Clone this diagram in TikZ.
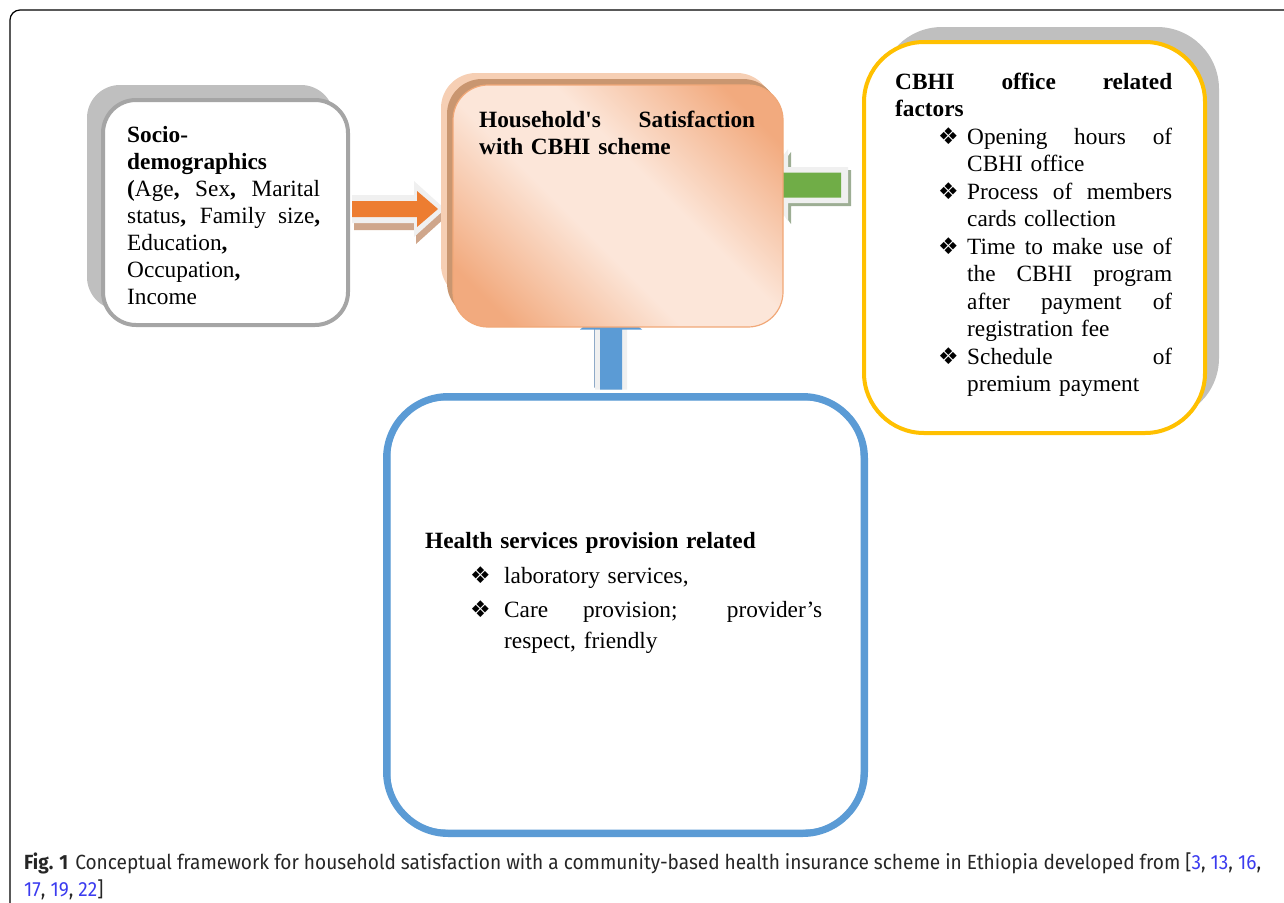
\documentclass[tikz,border=0pt]{standalone}
\usepackage{fontspec}
\setmainfont{Liberation Serif}[Ligatures=TeXOff]
\newfontfamily\dejavu{DejaVu Sans}
\newfontfamily\capfont[FakeStretch=0.93]{Fira Sans}
\usetikzlibrary{calc}

\definecolor{socioshade}{HTML}{BFBFBF}
\definecolor{socioline}{HTML}{A5A5A5}
\definecolor{peachback}{HTML}{F6CFB4}
\definecolor{peachedge}{HTML}{C99670}
\definecolor{peachdark}{HTML}{F2AA7E}
\definecolor{peachlight}{HTML}{FCE6D9}
\definecolor{peachline}{HTML}{F1A878}
\definecolor{arrorange}{HTML}{ED7D31}
\definecolor{arrtan}{HTML}{CFA68B}
\definecolor{arrlight}{HTML}{F0F0F0}
\definecolor{arrgreen}{HTML}{70AD47}
\definecolor{greenshade}{HTML}{9DAE94}
\definecolor{arrblue}{HTML}{5B9BD5}
\definecolor{blueshade}{HTML}{8FAAC8}
\definecolor{officeyellow}{HTML}{FFC000}
\definecolor{refblue}{HTML}{3B3BEF}

\pgfdeclarehorizontalshading{peachfade}{100bp}{color(0bp)=(peachdark); color(22bp)=(peachdark); color(43bp)=(peachlight); color(57bp)=(peachlight); color(78bp)=(peachdark); color(100bp)=(peachdark)}

% justified line of a given width: interword spaces share the slack
\newcommand\jl[2]{\leavevmode\hbox to #1{\spaceskip=0.25em plus 1fil\relax\xspaceskip=\spaceskip#2}}
\newcommand\bul{{\dejavu\fontsize{23}{23}\selectfont ❖}}
% bulleted lines in the office box and the health box
\newcommand\ob[1]{\hspace*{43pt}\makebox[29pt][l]{\bul}#1}
\newcommand\oc[1]{\hspace*{72pt}#1}
\newcommand\hb[1]{\hspace*{45pt}\makebox[34pt][l]{\bul}#1}
\newcommand\hc[1]{\hspace*{79pt}#1}

\tikzset{
  txt/.style={inner sep=0pt, align=left, anchor=north west,
    font=\fontsize{23.3}{27}\selectfont},
  card/.style={rounded corners=#1, inner sep=0pt},
  pics/barrow/.style n args={4}{code={
    \path[pic actions] (0,-#2) -- ({#1-#4},-#2) -- ({#1-#4},-#3) -- (#1,0)
      -- ({#1-#4},#3) -- ({#1-#4},#2) -- (0,#2) -- cycle;
  }}
}

\begin{document}
\begin{tikzpicture}[x=1pt, y=-1pt]
\useasboundingbox (0,0) rectangle (1284,902);

% page frame
\draw[line width=1.2pt, rounded corners=10pt] (10,905) -- (10,10) -- (1290,10);

% socio-demographic box
\node[card=33pt, fill=socioshade, minimum width=247pt, minimum height=225pt] (socioshadow) at (210.5,197.5) {};
\node[card=33pt, fill=white, draw=socioline, line width=4pt, minimum width=245pt, minimum height=225pt] (socio) at (225.5,212.5) {};
\node[txt, text width=193pt] (sociotext) at (127,122) {\rule{0pt}{20pt}\textbf{Socio-}\\
\textbf{demographics}\\
\jl{193pt}{\textbf{(}Age\textbf{,} Sex\textbf{,} Marital}\\
\jl{193pt}{status\textbf{,} Family size\textbf{,}}\\
Education\textbf{,}\\
Occupation\textbf{,}\\
Income};

% CBHI office box
\node[card=62pt, fill=socioshade, minimum width=339pt, minimum height=393pt] (cbhishadow) at (1049.5,223.5) {};
\node[card=60pt, fill=white, draw=officeyellow, line width=4pt, minimum width=341pt, minimum height=391pt] (cbhi) at (1034.5,237.5) {};
\node[txt, text width=277pt, font=\fontsize{23.3}{27.5}\selectfont] (cbhitext) at (895,69) {\rule{0pt}{20pt}\jl{277pt}{\textbf{CBHI office related}}\\
\textbf{factors}\\
\ob{\jl{205pt}{Opening hours of}}\\
\oc{CBHI office}\\
\ob{\jl{205pt}{Process of members}}\\
\oc{cards collection}\\
\ob{\jl{205pt}{Time to make use of}}\\
\oc{\jl{205pt}{the CBHI program}}\\
\oc{\jl{205pt}{after payment of}}\\
\oc{registration fee}\\
\ob{\jl{205pt}{Schedule of}}\\
\oc{premium payment}};

% anchor points of the block arrows
\coordinate (oa) at ($(socio.east)+(2,-3.5)$);
\coordinate (ga) at ($(cbhi.west)+(-14,-52.5)$);
\coordinate (gm) at ($(cbhi.west)+(-21,-52.5)$);

% health services box
\node[card=62pt, fill=white, draw=arrblue, line width=7pt, minimum width=478pt, minimum height=437pt] (health) at (625.5,615) {};
\draw[arrblue, line width=2pt, rounded corners=56pt] ($(health.north west)+(6.5,6.5)$) rectangle ($(health.south east)+(-6.5,-6.5)$);
\coordinate (ba) at ($(health.north)+(-14.5,-3.5)$);
\node[txt, text width=420pt, font=\fontsize{23.3}{31}\selectfont] (healthtext) at (425,528) {\rule{0pt}{20pt}\textbf{Health services provision related}\\[4pt]
\hb{laboratory services,}\\[3pt]
\hb{\jl{318pt}{Care provision; provider’s}}\\
\hc{respect, friendly}};

% orange arrow: socio-demographics -> satisfaction
\pic[fill=arrtan] at ($(oa)+(2,7)$) {barrow={93}{14}{28}{31}};
\pic[fill=arrlight] at (oa) {barrow={93}{14}{28}{31}};
\pic[fill=arrorange] at (oa) {barrow={86}{8}{18}{21}};

% green arrow: CBHI office -> satisfaction
\pic[fill=greenshade, rotate=180] at ($(ga)+(3,3)$) {barrow={86}{18}{36}{26}};
\pic[fill=arrlight, rotate=180] at (ga) {barrow={86}{18}{36}{26}};
\pic[fill=arrgreen, rotate=180] at (gm) {barrow={80}{12.5}{32}{22}};

% blue arrow: health services -> satisfaction
\pic[fill=blueshade, rotate=90] at ($(ba)+(-1,-2)$) {barrow={88}{16}{36}{25}};
\pic[fill=arrlight, rotate=90] at (ba) {barrow={88}{16}{36}{25}};
\pic[fill=arrblue, rotate=90] at (ba) {barrow={85}{11}{31}{25}};

% satisfaction box
\node[card=35pt, fill=peachback, minimum width=331pt, minimum height=227pt] (houseback) at (606.5,186.5) {};
\node[card=35pt, fill=peachedge, minimum width=331pt, minimum height=239pt] (houseedge) at (612.5,198.5) {};
\node[card=35pt, shade, shading=peachfade, shading angle=45, draw=peachline, line width=1.2pt, minimum width=330pt, minimum height=242pt] (house) at (618,206) {};
\node[txt, text width=276pt] (housetext) at (479,107) {\rule{0pt}{20pt}\jl{276pt}{\textbf{Household's Satisfaction}}\\
\textbf{with CBHI scheme}};

% caption
\node[inner sep=0pt, anchor=north west, align=left, text=black!85,
  font=\capfont\fontsize{20.5}{27}\selectfont] (caption) at (24,853)
{\rule{0pt}{16pt}\textbf{Fig. 1}\hspace{7pt}Conceptual framework for household satisfaction with a community-based health insurance scheme in Ethiopia developed from [{\color{refblue}3}, {\color{refblue}13}, {\color{refblue}16},\\
{\color{refblue}17}, {\color{refblue}19}, {\color{refblue}22}]};
\end{tikzpicture}
\end{document}
